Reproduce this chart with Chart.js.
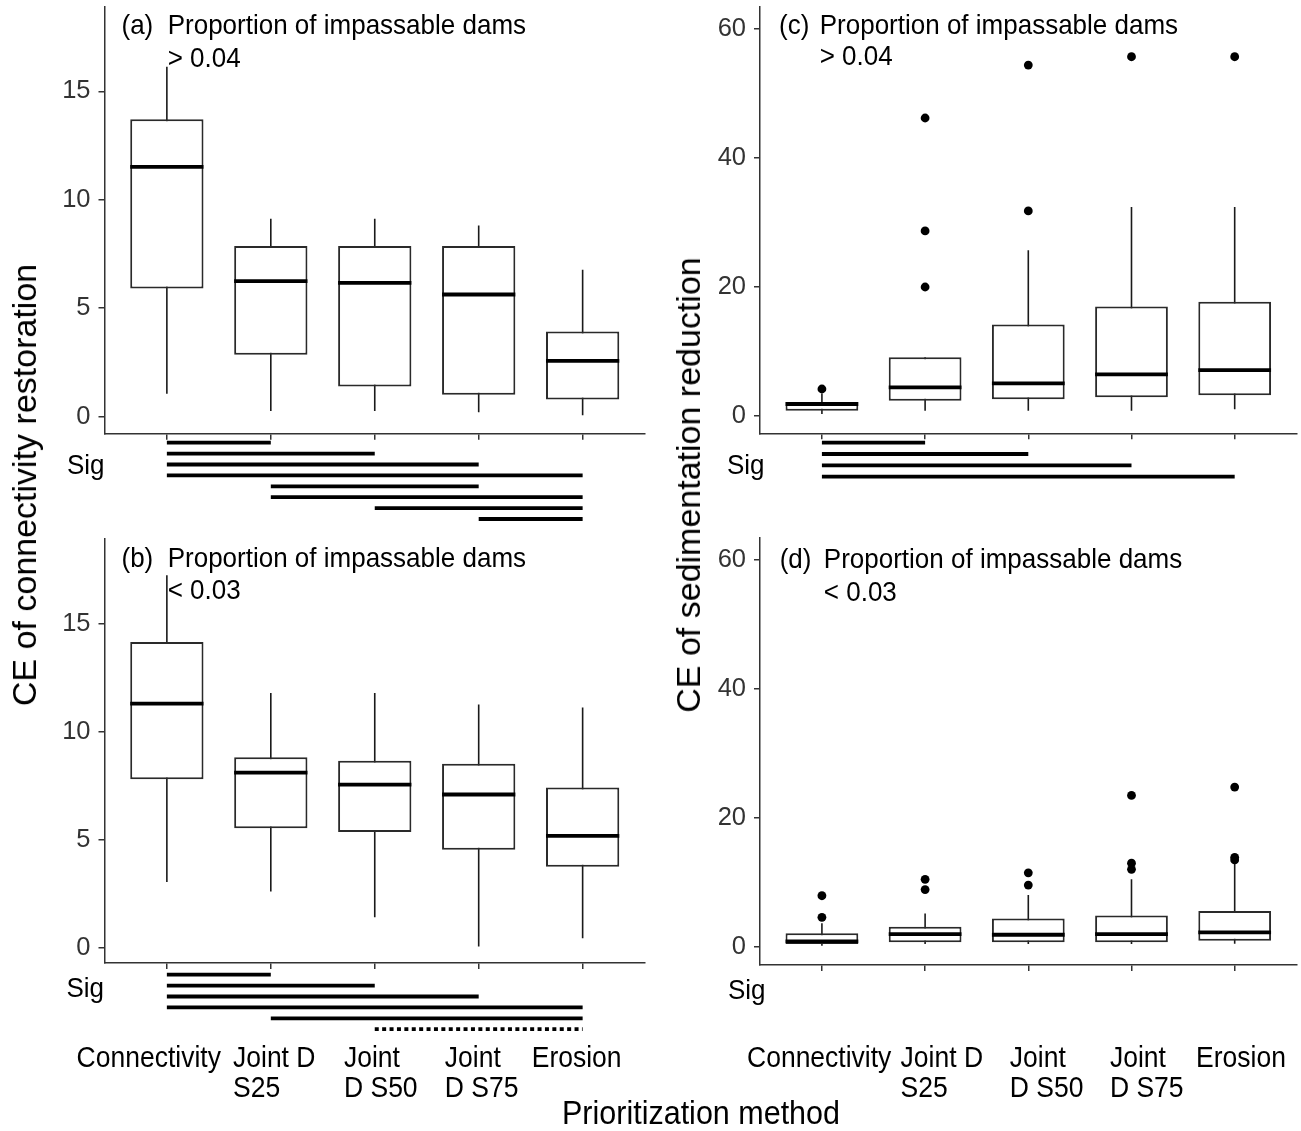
<!DOCTYPE html>
<html>
<head>
<meta charset="utf-8">
<title>CE by prioritization method</title>
<script src="https://cdn.jsdelivr.net/npm/chart.js@4.4.1/dist/chart.umd.min.js"></script>
<style>
  html, body { margin: 0; padding: 0; background: #fff; }
  #fig { position: relative; width: 1301px; height: 1131px; overflow: hidden; background: #fff;
         font-family: "Liberation Sans", Arial, sans-serif; color: #000; }
  #fig canvas { position: absolute; }
  .ytitle { position: absolute; font-size: 34px; line-height: 1; white-space: nowrap;
            transform: translate(-50%, -50%) rotate(-90deg); }
  .xtitle { position: absolute; font-size: 30.5px; line-height: 1; white-space: nowrap;
            transform: translateX(-50%) scaleY(1.08); }
</style>
</head>
<body>
<div id="fig">
  <canvas id="panelA"></canvas>
  <canvas id="panelB"></canvas>
  <canvas id="panelC"></canvas>
  <canvas id="panelD"></canvas>
  <div class="ytitle" style="left:24px; top:485px;">CE of connectivity restoration</div>
  <div class="ytitle" style="left:688px; top:485px;">CE of sedimentation reduction</div>
  <div class="xtitle" style="left:701px; top:1097px;">Prioritization method</div>
</div>
<script>
// ---- data ----
const categories = ['Connectivity', 'Joint D S25', 'Joint D S50', 'Joint D S75', 'Erosion'];
const categoryLines = [['Connectivity'], ['Joint D', 'S25'], ['Joint', 'D S50'], ['Joint', 'D S75'], ['Erosion']];
const positions = [1, 2, 3, 4, 5];
const connTicks = [0, 5, 10, 15];
const sedTicks = [0, 20, 40, 60];
const noteTitle = 'Proportion of impassable dams';

// (a) connectivity restoration, proportion > 0.04
const aLow  = [1.05, 0.26, 0.26, 0.20, 0.06];
const aQ1   = [5.91, 2.85, 1.39, 1.01, 0.79];
const aMed  = [11.52, 6.25, 6.17, 5.63, 2.57];
const aQ3   = [13.71, 7.87, 7.87, 7.87, 3.92];
const aHigh = [16.14, 9.12, 9.12, 8.81, 6.77];
const aOutliers = [[], [], [], [], []];
const aSig = [[1, 2], [1, 3], [1, 4], [1, 5], [2, 4], [2, 5], [3, 5], [4, 5]];
const aSigDotted = [];

// (b) connectivity restoration, proportion < 0.03
const bLow  = [3.05, 2.61, 1.42, 0.06, 0.44];
const bQ1   = [7.81, 5.54, 5.36, 4.54, 3.76];
const bMed  = [11.31, 8.11, 7.56, 7.10, 5.18];
const bQ3   = [14.16, 8.82, 8.66, 8.52, 7.42];
const bHigh = [17.25, 11.80, 11.80, 11.27, 11.13];
const bOutliers = [[], [], [], [], []];
const bSig = [[1, 2], [1, 3], [1, 4], [1, 5], [2, 5], [3, 5]];
const bSigDotted = [5];

// (c) sedimentation reduction, proportion > 0.04
const cLow  = [0.31, 0.82, 0.82, 0.82, 1.04];
const cQ1   = [0.82, 2.37, 2.59, 2.90, 3.20];
const cMed  = [1.86, 4.45, 5.07, 6.47, 7.10];
const cQ3   = [2.17, 9.10, 14.20, 16.96, 17.70];
const cHigh = [3.50, 9.10, 25.70, 32.40, 32.40];
const cOutliers = [[4.19], [20.0, 28.7, 46.2], [31.8, 54.4], [55.7], [55.7]];
const cSig = [[1, 2], [1, 3], [1, 4], [1, 5]];
const cSigDotted = [];

// (d) sedimentation reduction, proportion < 0.03
const dLow  = [0.20, 0.47, 0.47, 0.47, 0.50];
const dQ1   = [0.47, 0.72, 0.72, 0.72, 0.98];
const dMed  = [0.88, 2.00, 1.90, 2.00, 2.28];
const dQ3   = [2.12, 3.15, 4.40, 4.90, 5.60];
const dHigh = [3.67, 5.20, 8.06, 10.50, 13.30];
const dOutliers = [[4.6, 7.95], [8.9, 10.5], [9.6, 11.5], [12.05, 13.0, 23.5], [13.5, 13.9, 24.8]];
const dSig = [];
const dSigDotted = [];

// ---- layout of the four panels (pixels inside each canvas) ----
const FONT = '"Liberation Sans", Arial, sans-serif';
const BOX_FRACTION = 0.705;
const TEXT_STRETCH = 1.08; // the source figure is slightly taller than wide

const panels = [
  { id: 'panelA', left: 0, top: 0, w: 650, h: 530,
    plotLeft: 104.5, plotRight: 645, plotTop: 6.8, plotBottom: 433.7, yMin: -0.79, yMax: 18.9, yTicks: connTicks,
    stats: { low: aLow, q1: aQ1, med: aMed, q3: aQ3, high: aHigh, out: aOutliers },
    sig: aSig, sigDotted: aSigDotted, sigFirst: 9, sigStep: 10.9, sigLabel: [-37.5, 40.3],
    tag: '(a)', note: '> 0.04', tagDx: -13.6, noteDx: 0.8, noteY: [27.6, 60], showLabels: false },
  { id: 'panelB', left: 0, top: 530, w: 650, h: 601,
    plotLeft: 104.5, plotRight: 645, plotTop: 8.5, plotBottom: 433, yMin: -0.70, yMax: 18.95, yTicks: connTicks,
    stats: { low: bLow, q1: bQ1, med: bMed, q3: bQ3, high: bHigh, out: bOutliers },
    sig: bSig, sigDotted: bSigDotted, sigFirst: 11.7, sigStep: 10.9, sigLabel: [-38, 34],
    tag: '(b)', note: '< 0.03', tagDx: -13.6, noteDx: 0.8, noteY: [28, 60.5], showLabels: true,
    labelDx: [-90.3, -37.8, -30.8, -33.9, -50.9], labelY: 103.7 },
  { id: 'panelC', left: 650, top: 0, w: 651, h: 530,
    plotLeft: 110, plotRight: 651, plotTop: 7, plotBottom: 433.3, yMin: -2.68, yMax: 63.41, yTicks: sedTicks,
    stats: { low: cLow, q1: cQ1, med: cMed, q3: cQ3, high: cHigh, out: cOutliers },
    sig: cSig, sigDotted: cSigDotted, sigFirst: 9.4, sigStep: 11.3, sigLabel: [-33, 40.7],
    tag: '(c)', note: '> 0.04', tagDx: -12.6, noteDx: -2.2, noteY: [27, 58], showLabels: false },
  { id: 'panelD', left: 650, top: 530, w: 651, h: 601,
    plotLeft: 110, plotRight: 651, plotTop: 8, plotBottom: 435, yMin: -2.79, yMax: 63.41, yTicks: sedTicks,
    stats: { low: dLow, q1: dQ1, med: dMed, q3: dQ3, high: dHigh, out: dOutliers },
    sig: dSig, sigDotted: dSigDotted, sigFirst: 9.4, sigStep: 11.3, sigLabel: [-32, 33.5],
    tag: '(d)', note: '< 0.03', tagDx: -10.5, noteDx: 1.9, noteY: [30, 63], showLabels: true,
    labelDx: [-74.9, -24.5, -18.5, -21.6, -38.6], labelY: 101.7 }
];

Chart.defaults.font.family = FONT;
Chart.defaults.color = '#000';

// text drawn with the same slight vertical stretch as the source
function tallText(ctx, text, x, y) {
  ctx.save();
  ctx.translate(x, y);
  ctx.scale(1, TEXT_STRETCH);
  ctx.fillText(text, 0, 0);
  ctx.restore();
}

// medians, panel notes, significance bars and category labels
function boxDecor(p) {
  return {
    id: 'boxDecor',
    afterDatasetsDraw(chart) {
      const { ctx, scales: { x, y } } = chart;
      const half = x.getPixelForValue(1 + BOX_FRACTION / 2) - x.getPixelForValue(1);
      ctx.save();
      ctx.strokeStyle = '#000';
      ctx.lineWidth = 3.8;
      p.stats.med.forEach((m, i) => {
        const px = x.getPixelForValue(positions[i]);
        const py = y.getPixelForValue(m);
        ctx.beginPath();
        ctx.moveTo(px - half, py);
        ctx.lineTo(px + half, py);
        ctx.stroke();
      });
      ctx.restore();
    },
    afterDraw(chart) {
      const { ctx, chartArea, scales: { x } } = chart;
      const x1 = x.getPixelForValue(positions[0]);
      ctx.save();
      ctx.fillStyle = '#000';
      ctx.textBaseline = 'alphabetic';
      ctx.font = '26px ' + FONT;

      ctx.textAlign = 'right';
      tallText(ctx, p.tag, x1 + p.tagDx, chartArea.top + p.noteY[0]);
      ctx.textAlign = 'left';
      tallText(ctx, noteTitle, x1 + p.noteDx, chartArea.top + p.noteY[0]);
      tallText(ctx, p.note, x1 + p.noteDx, chartArea.top + p.noteY[1]);

      tallText(ctx, 'Sig', chartArea.left + p.sigLabel[0], chartArea.bottom + p.sigLabel[1]);

      ctx.strokeStyle = '#000';
      ctx.lineWidth = 3.8;
      p.sig.forEach((pair, r) => {
        const yy = chartArea.bottom + p.sigFirst + r * p.sigStep;
        ctx.setLineDash(p.sigDotted.includes(r) ? [4, 3.4] : []);
        ctx.beginPath();
        ctx.moveTo(x.getPixelForValue(pair[0]), yy);
        ctx.lineTo(x.getPixelForValue(pair[1]), yy);
        ctx.stroke();
      });
      ctx.setLineDash([]);

      if (p.showLabels) {
        ctx.font = '26.5px ' + FONT;
        categoryLines.forEach((lines, i) => {
          const lx = x.getPixelForValue(positions[i]) + p.labelDx[i];
          lines.forEach((t, k) => tallText(ctx, t, lx, chartArea.bottom + p.labelY + k * 30));
        });
      }
      ctx.restore();
    }
  };
}

function buildPanel(p) {
  const canvas = document.getElementById(p.id);
  canvas.width = p.w;
  canvas.height = p.h;
  canvas.style.left = p.left + 'px';
  canvas.style.top = p.top + 'px';

  const s = p.stats;
  const outliers = [];
  s.out.forEach((vals, i) => vals.forEach(v => outliers.push({ x: positions[i], y: v })));

  const axisLine = { display: true, color: '#333', width: 1.5 };
  const tickMarks = { display: true, drawOnChartArea: false, drawTicks: true, tickLength: 6,
                      color: '#333', lineWidth: 1.5, offset: false };

  return new Chart(canvas, {
    type: 'bar',
    data: {
      datasets: [
        { type: 'bar', label: 'whisker',
          data: positions.map((px, i) => ({ x: px, y: [s.low[i], s.high[i]] })),
          backgroundColor: '#1a1a1a', borderWidth: 0, grouped: false,
          barPercentage: 0.0155, categoryPercentage: 1, order: 3 },
        { type: 'bar', label: 'box',
          data: positions.map((px, i) => ({ x: px, y: [s.q1[i], s.q3[i]] })),
          backgroundColor: '#fff', borderColor: '#2a2a2a', borderWidth: 2, borderSkipped: false,
          grouped: false, barPercentage: BOX_FRACTION, categoryPercentage: 1, order: 2 },
        { type: 'scatter', label: 'outlier', data: outliers,
          pointRadius: 4.4, backgroundColor: '#000', borderWidth: 0, order: 1 }
      ]
    },
    options: {
      responsive: false,
      animation: false,
      devicePixelRatio: 1,
      events: [],
      layout: { padding: { left: 0, right: p.w - p.plotRight, top: p.plotTop, bottom: 0 } },
      plugins: { legend: { display: false }, tooltip: { enabled: false } },
      scales: {
        x: {
          type: 'linear', min: 0.4, max: 5.6, offset: false,
          afterBuildTicks: sc => { sc.ticks = positions.map(v => ({ value: v })); },
          afterFit: sc => { sc.height = p.h - p.plotBottom; sc.paddingLeft = 0; sc.paddingRight = 0; },
          ticks: { display: false },
          grid: tickMarks,
          border: axisLine
        },
        y: {
          type: 'linear', min: p.yMin, max: p.yMax,
          afterBuildTicks: sc => { sc.ticks = p.yTicks.map(v => ({ value: v })); },
          afterFit: sc => { sc.width = p.plotLeft; sc.paddingTop = 0; sc.paddingBottom = 0; },
          ticks: { color: '#333', font: { size: 25.5 }, padding: 8 },
          grid: tickMarks,
          border: axisLine
        }
      }
    },
    plugins: [boxDecor(p)]
  });
}

panels.forEach(buildPanel);
</script>
</body>
</html>
